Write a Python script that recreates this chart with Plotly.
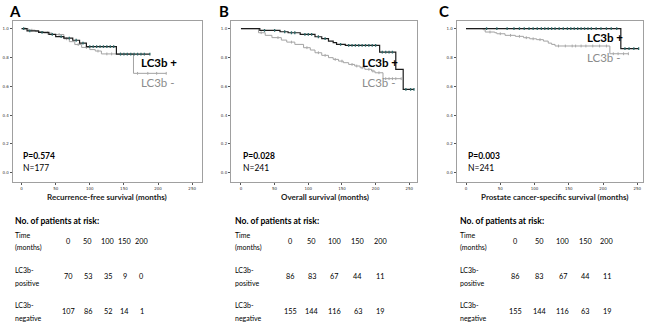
import plotly.graph_objects as go
import numpy as np

W, H = 650, 326

# ---------------- data ----------------
panels = ["A", "B", "C"]
x_titles = ["Recurrence-free survival (months)", "Overall survival (months)",
            "Prostate cancer-specific survival (months)"]
p_values = ["P=0.574", "P=0.028", "P=0.003"]
n_values = ["N=177", "N=241", "N=241"]

A_pos_t = [0, 8, 25, 40, 50, 62, 75, 85, 95, 139, 188]
A_pos_s = [1.0, 0.985, 0.975, 0.96, 0.945, 0.935, 0.92, 0.90, 0.875, 0.824, 0.824]
A_neg_t = [0, 10, 20, 32, 45, 62, 70, 78, 88, 100, 108, 117, 164, 212]
A_neg_s = [1.0, 0.99, 0.98, 0.97, 0.96, 0.93, 0.91, 0.89, 0.87, 0.855, 0.845, 0.825, 0.69, 0.69]
A_pos_cens = [3, 12, 30, 45, 58, 70, 80, 90, 100, 105, 110, 115, 120, 125, 130, 135,
              145, 150, 155, 160, 165, 170, 175, 180, 188]
A_neg_cens = [5, 15, 38, 55, 66, 83, 95, 112, 125, 132, 145, 170, 185, 198, 212]

B_pos_t = [0, 28, 58, 70, 88, 110, 120, 130, 137, 142, 155, 206, 230, 241, 257]
B_pos_s = [1.0, 0.988, 0.979, 0.972, 0.961, 0.944, 0.931, 0.914, 0.903, 0.891, 0.884,
           0.838, 0.718, 0.579, 0.579]
B_neg_t = [0, 26, 36, 46, 60, 68, 80, 93, 103, 110, 120, 130, 137, 145, 152, 160, 169,
           177, 184, 194, 199, 211, 238]
B_neg_s = [1.0, 0.972, 0.954, 0.938, 0.921, 0.907, 0.891, 0.868, 0.852, 0.833, 0.815,
           0.799, 0.787, 0.775, 0.764, 0.752, 0.741, 0.729, 0.718, 0.706, 0.694, 0.653, 0.653]
B_pos_cens = [35, 50, 65, 75, 80, 95, 100, 105, 115, 125, 148, 160, 165, 170, 175, 180,
              185, 190, 195, 200, 210, 215, 220, 225, 245, 252, 257]
B_neg_cens = [30, 55, 75, 98, 115, 125, 140, 150, 165, 172, 180, 190, 196, 205, 215,
              220, 225, 230, 238]

C_pos_t = [0, 226, 252]
C_pos_s = [1.0, 0.861, 0.861]
C_neg_t = [0, 25, 28, 42, 45, 57, 72, 84, 93, 103, 113, 120, 125, 130, 210, 237]
C_neg_s = [1.0, 0.993, 0.977, 0.972, 0.965, 0.954, 0.947, 0.9375, 0.93, 0.924, 0.914,
           0.90, 0.891, 0.88, 0.826, 0.826]
C_pos_cens = [30, 45, 60, 70, 78, 85, 92, 98, 104, 110, 115, 120, 125, 130, 136, 142,
              148, 153, 158, 163, 168, 173, 178, 183, 190, 197, 205, 212, 220, 232,
              238, 245, 252]
C_neg_cens = [35, 50, 65, 78, 88, 98, 108, 135, 145, 155, 160, 168, 175, 185, 195, 205,
              215, 222, 230, 237]

time_ticks = [0, 50, 100, 150, 200]
A_risk_pos = [70, 53, 35, 9, 0]
A_risk_neg = [107, 86, 52, 14, 1]
B_risk_pos = [86, 83, 67, 44, 11]
B_risk_neg = [155, 144, 116, 63, 19]
C_risk_pos = [86, 83, 67, 44, 11]
C_risk_neg = [155, 144, 116, 63, 19]

curves = [
    (A_pos_t, A_pos_s, A_neg_t, A_neg_s, A_pos_cens, A_neg_cens),
    (B_pos_t, B_pos_s, B_neg_t, B_neg_s, B_pos_cens, B_neg_cens),
    (C_pos_t, C_pos_s, C_neg_t, C_neg_s, C_pos_cens, C_neg_cens),
]
risks = [(A_risk_pos, A_risk_neg), (B_risk_pos, B_risk_neg), (C_risk_pos, C_risk_neg)]

# ---------------- layout geometry (pixels) ----------------
box_x = [(12.7, 201.7), (231, 417), (456.7, 643.3)]
box_y = (20.7, 181.7)
x_ranges = [[-13, 264], [-14.8, 261.5], [-13.6, 258.8]]
y_range = [-0.0625, 1.0556]
plus_pos = [(139, 62), (360, 62), (585, 37)]
minus_pos = [(139, 82), (360, 83), (585, 58)]
pn_x = [20.7, 241, 466]
xt_x = [107, 325, 555]
title_x = [7, 217, 437]
tbl_label_x = [13, 233, 458]
tbl_cols = [[68, 87.5, 107.5, 124.7, 141.5], [290, 311.7, 334, 357.7, 380],
            [515, 539, 562.7, 585, 606.7]]

POS_LINE = "#1c1c1c"
POS_MARK = "#2e6a6a"
NEG_LINE = "#a3a3a3"
NEG_MARK = "#a8a8a8"
FONT = "Lato"

def px(x):
    return x / W

def py(y):
    return 1 - y / H

def step_value(ts, ss, t):
    idx = np.searchsorted(np.array(ts), t, side="right") - 1
    return ss[max(idx, 0)]

fig = go.Figure()
annotations = []

for i in range(3):
    ax = "" if i == 0 else str(i + 1)
    pt, ps, nt, ns, pc, nc = curves[i]
    fig.add_trace(go.Scatter(x=nt, y=ns, mode="lines", line=dict(color=NEG_LINE, width=1, shape="hv"),
                             xaxis="x" + ax, yaxis="y" + ax, showlegend=False, hoverinfo="skip"))
    fig.add_trace(go.Scatter(x=nc, y=[step_value(nt, ns, t) for t in nc], mode="markers",
                             marker=dict(symbol="line-ns-open", size=2, color=NEG_MARK,
                                         line=dict(color=NEG_MARK, width=1)),
                             xaxis="x" + ax, yaxis="y" + ax, showlegend=False, hoverinfo="skip"))
    fig.add_trace(go.Scatter(x=pt, y=ps, mode="lines", line=dict(color=POS_LINE, width=1.2, shape="hv"),
                             xaxis="x" + ax, yaxis="y" + ax, showlegend=False, hoverinfo="skip"))
    fig.add_trace(go.Scatter(x=pc, y=[step_value(pt, ps, t) for t in pc], mode="markers",
                             marker=dict(symbol="line-ns-open", size=2, color=POS_MARK,
                                         line=dict(color=POS_MARK, width=1.3)),
                             xaxis="x" + ax, yaxis="y" + ax, showlegend=False, hoverinfo="skip"))

    axis_common = dict(showline=True, linecolor="#a0a0a0", linewidth=1, mirror=True,
                       showgrid=False, zeroline=False, ticks="outside", ticklen=2,
                       tickcolor="#555", tickwidth=1, fixedrange=True,
                       tickfont=dict(family="DejaVu Sans", size=4, color="#333"))
    fig.layout["xaxis" + ax] = dict(axis_common, domain=[px(box_x[i][0]), px(box_x[i][1])],
                                    range=x_ranges[i], tickvals=[0, 50, 100, 150, 200, 250],
                                    anchor="y" + ax)
    fig.layout["yaxis" + ax] = dict(axis_common, domain=[py(box_y[1]), py(box_y[0])],
                                    range=y_range, tickvals=[0, 0.2, 0.4, 0.6, 0.8, 1.0],
                                    ticktext=["0.0", "0.2", "0.4", "0.6", "0.8", "1.0"],
                                    anchor="x" + ax)

    def ann(text, x, y, size, color="#000", bold=False, xanchor="left"):
        annotations.append(dict(text=("<b>%s</b>" % text) if bold else text,
                                x=px(x), y=py(y), xref="paper", yref="paper",
                                xanchor=xanchor, yanchor="middle", showarrow=False,
                                font=dict(family=FONT, size=size, color=color)))

    ann(panels[i], title_x[i], 11, 15, bold=True)
    ann("LC3b +", plus_pos[i][0], plus_pos[i][1], 11.5, "#000", bold=True)
    ann("LC3b -", minus_pos[i][0], minus_pos[i][1], 11.5, "#8c8c8c")
    ann(p_values[i], pn_x[i], 156, 8.5, bold=True)
    ann(n_values[i], pn_x[i], 168, 8.5)
    ann(x_titles[i], xt_x[i], 197, 8, "#222", bold=True, xanchor="center")

    # risk table
    ann("No. of patients at risk:", tbl_label_x[i], 221, 8.6, bold=True)
    ann("Time", tbl_label_x[i], 235, 7)
    ann("(months)", tbl_label_x[i], 247.5, 7)
    ann("LC3b-", tbl_label_x[i], 270, 7)
    ann("positive", tbl_label_x[i], 282.5, 7)
    ann("LC3b-", tbl_label_x[i], 305, 7)
    ann("negative", tbl_label_x[i], 317.5, 7)
    for j in range(5):
        ann(str(time_ticks[j]), tbl_cols[i][j], 241.7, 7.3, xanchor="center")
        ann(str(risks[i][0][j]), tbl_cols[i][j], 276.7, 7.3, xanchor="center")
        ann(str(risks[i][1][j]), tbl_cols[i][j], 311.7, 7.3, xanchor="center")

fig.update_layout(width=W, height=H, margin=dict(l=0, r=0, t=0, b=0),
                  paper_bgcolor="white", plot_bgcolor="white",
                  annotations=annotations, showlegend=False)

fig.write_html("out.html", config={"displayModeBar": False, "staticPlot": True},
               post_script="document.body.style.margin='0';document.body.style.padding='0';")
